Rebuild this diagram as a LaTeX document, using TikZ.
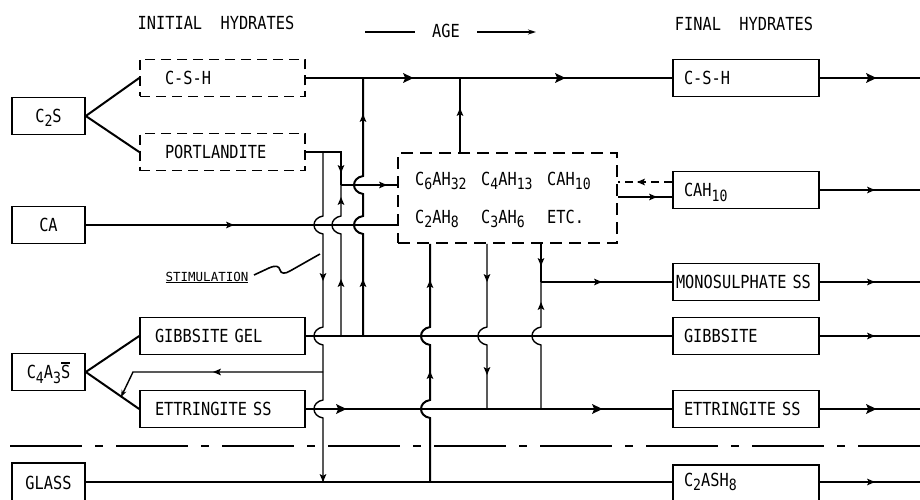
\documentclass[tikz,border=0pt]{standalone}
\usepackage{fontspec}
\setmainfont[FakeStretch=0.85]{DejaVu Sans Mono}
\newfontfamily\stimfont{DejaVu Sans Mono}
\usetikzlibrary{arrows.meta}
\newcommand\lo[1]{\raisebox{-4.5pt}{\fontsize{15.5}{15.5}\selectfont #1}}
\newcommand\sbar{\makebox[0pt][l]{\raisebox{15pt}{\rule{9pt}{1.3pt}}}S}
\newcommand\hopd[2]{-- (#1,#2-9) .. controls (#1-12,#2-7) and (#1-12,#2+7) .. (#1,#2+9)}
\newcommand\hopu[2]{-- (#1,#2+9) .. controls (#1-12,#2+7) and (#1-12,#2-7) .. (#1,#2-9)}
\begin{document}
\begin{tikzpicture}[x=1pt,y=-1pt,
 base/.style={font=\fontsize{18}{21}\selectfont},
 box/.style={base, draw, line width=1.6pt, rectangle, inner ysep=0pt, minimum height=37pt, text height=13pt, text depth=0pt},
 dbox/.style={box, dash pattern=on 10pt off 6pt},
 lbox/.style 2 args={inner xsep=#1, text width=#2, align=left},
 cbox/.style={box, minimum width=73pt, inner xsep=0pt},
 txt/.style={base, inner sep=0pt},
 thn/.style={line width=1.4pt},
 med/.style={line width=2pt},
 thk/.style={line width=2.8pt},
 ah/.pic={\fill (4,0) -- (-4,3.4) -- (-2.2,0) -- (-4,-3.4) -- cycle;},
 ahb/.pic={\fill (5.5,0) -- (-5,5) -- (-2.8,0) -- (-5,-5) -- cycle;}
]
\useasboundingbox (0,0) rectangle (920,500);
\clip (0,0) rectangle (920,500);

% headers
\node[txt] (hini) at (216,23) {INITIAL\ \ HYDRATES};
\node[txt] (hage) at (446,31) {AGE};
\node[txt] (hfin) at (744,24) {FINAL\ \ HYDRATES};
\coordinate (agea) at (365,32); \coordinate (ageb) at (415,32);
\coordinate (agec) at (477,32); \coordinate (aged) at (536,32);
\draw[thn] (agea) -- (ageb);
\draw[thn,-{Stealth[length=8pt,width=5pt]}] (agec) -- (aged);

% left boxes
\node[cbox] (c2s) at (48.5,116) {C\lo{2}S};
\node[cbox] (ca) at (48.5,225) {CA};
\node[cbox] (c4a) at (48.5,372) {C\lo{4}A\lo{3}\sbar};
\node[cbox, minimum height=56pt, text depth=17pt] (glass) at (48.5,491) {GLASS};

\node[dbox, lbox={25pt}{115pt}] (csh) at (222.5,78) {C-S-H};
\node[dbox, lbox={25pt}{115pt}] (port) at (222.5,152) {PORTLANDITE};
\node[box, lbox={15pt}{135pt}] (gg) at (222.5,336) {GIBBSITE GEL};
\node[box, lbox={15pt}{135pt}] (et) at (222.5,409) {ETTRINGITE SS};

% right boxes
\node[box, lbox={11pt}{124pt}] (rcsh) at (746,78) {C-S-H};
\node[box, lbox={11pt}{124pt}] (rcah) at (746,190) {CAH\lo{10}};
\node[box, lbox={3pt}{140pt}] (rmono) at (746,282) {MONOSULPHATE SS};
\node[box, lbox={11pt}{124pt}] (rgib) at (746,336) {GIBBSITE};
\node[box, lbox={11pt}{124pt}] (ret) at (746,409) {ETTRINGITE SS};
\node[box, lbox={11pt}{124pt}, minimum height=58pt, text depth=29pt] (rc2a) at (746,494) {C\lo{2}ASH\lo{8}};

% central box
\node[dbox, minimum width=219pt, minimum height=90pt, dash pattern=on 12pt off 7pt] (cen) at (507.5,198) {};
\node[txt, anchor=base west] (k1) at (415,185) {C\lo{6}AH\lo{32}};
\node[txt, anchor=base west] (k2) at (481,185) {C\lo{4}AH\lo{13}};
\node[txt, anchor=base west] (k3) at (547,185) {CAH\lo{10}};
\node[txt, anchor=base west] (k4) at (415,223) {C\lo{2}AH\lo{8}};
\node[txt, anchor=base west] (k5) at (481,223) {C\lo{3}AH\lo{6}};
\node[txt, anchor=base west] (k6) at (547,223) {ETC.};

% stimulation
\node[inner sep=0pt, anchor=base, font=\stimfont\fontsize{12.5}{15}\selectfont] (stim) at (207,281) {\underline{STIMULATION}};
\coordinate (z0) at (254,275);
\draw[line width=1.6pt] (z0) -- (269,268) .. controls (276,265) and (279,266) .. (280,270) .. controls (281,274) and (285,274) .. (290,271) -- (320,254);

% branching lines
\draw[med] (c2s.east) -- (csh.west);
\draw[med] (c2s.east) -- (port.west);
\draw[med] (c4a.east) -- (gg.west);
\draw[med] (c4a.east) -- (et.west);

% C-S-H row
\coordinate (o1) at (920,78);
\draw[thk] (csh.east) -- (rcsh.west);
\pic at (408,78) {ahb}; \pic at (560,78) {ahb};
\draw[thk] (rcsh.east) -- (o1); \pic at (871,78) {ahb};

% vertical x=363
\coordinate (v3b) at (363,336); \coordinate (v3t) at (363,78);
\draw[med] (v3b) \hopu{363}{225} \hopu{363}{185} -- (v3t);
\pic[rotate=90] at (363,118) {ah}; \pic[rotate=90] at (363,283) {ah};

% vertical x=460
\coordinate (v4t) at (460,78);
\draw[med] (cen.north -| v4t) -- (v4t); \pic[rotate=90] at (460,112) {ah};

% portlandite
\coordinate (p1) at (323,152); \coordinate (p2) at (341,152); \coordinate (p3) at (341,185);
\draw[thn] (port.east) -- (p2) -- (p3);
\pic[rotate=-90] at (341,169) {ah};
\draw[thn] (p3) -- (p3 -| cen.west); \pic at (383,185) {ah};

% x=341 from gibbsite gel
\coordinate (g2) at (341,336);
\draw[thn] (g2) \hopu{341}{225} -- (p3);
\pic[rotate=90] at (341,201) {ah}; \pic[rotate=90] at (341,283) {ah};

% x=323 stimulation line
\coordinate (s1) at (323,372); \coordinate (p4) at (323,482);
\draw[thn] (p1) \hopd{323}{225} \hopd{323}{336} \hopd{323}{409} -- (p4);
\pic[rotate=-90] at (323,277) {ah}; \pic[rotate=-90] at (323,478) {ah};
\coordinate (s2) at (133,372); \coordinate (s3) at (121,397);
\draw[thn,-{Stealth[length=7pt,width=5pt]}] (s1) -- (s2) -- (s3);
\pic[rotate=180] at (217,372) {ah};

% CA
\draw[thn] (ca.east) -- (ca.east -| cen.west); \pic at (230,225) {ah};

% CAH10
\coordinate (d1) at ([yshift=8pt]rcah.west);
\coordinate (d2) at ([yshift=-7pt]rcah.west);
\coordinate (o2) at (920,190);
\draw[thn, dash pattern=on 8pt off 5pt] (d1) -- (d1 -| cen.east); \pic[rotate=180] at (641,182) {ah};
\draw[thn] (d2 -| cen.east) -- (d2); \pic at (653,197) {ah};
\draw[thn] (rcah.east) -- (o2); \pic at (871,190) {ah};

% monosulphate
\coordinate (m1) at (541,282); \coordinate (o3) at (920,282);
\draw[thn] (m1) -- (rmono.west); \pic at (598,282) {ah};
\draw[thn] (rmono.east) -- (o3); \pic at (871,282) {ah};

% gibbsite
\coordinate (o4) at (920,336);
\draw[thn] (gg.east) -- (rgib.west);
\draw[thn] (rgib.east) -- (o4); \pic at (871,336) {ah};

% ettringite
\coordinate (o5) at (920,409);
\draw[thk] (et.east) -- (ret.west); \pic at (341,409) {ahb}; \pic at (597,409) {ahb};
\draw[thk] (ret.east) -- (o5); \pic at (871,409) {ahb};

% central bottom verticals
\coordinate (b1) at (430,482);
\draw[med] (b1) \hopu{430}{409} \hopu{430}{336} -- (b1 |- cen.south);
\pic[rotate=90] at (430,375) {ah}; \pic[rotate=90] at (430,284) {ah};
\coordinate (b2) at (487,409);
\draw[thn] (b2 |- cen.south) \hopd{487}{336} -- (b2);
\pic[rotate=-90] at (487,278) {ah}; \pic[rotate=-90] at (487,371) {ah};
\coordinate (b3) at (541,409);
\draw[thn] (m1 |- cen.south) -- (m1); \pic[rotate=-90] at (541,262) {ah};
\draw[thn] (b3) \hopu{541}{336} -- (m1); \pic[rotate=90] at (541,306) {ah};

% glass
\coordinate (o6) at (920,482);
\draw[thn] (glass.east |- p4) -- (rc2a.west |- p4);
\draw[thn] (rc2a.east |- p4) -- (o6); \pic at (871,482) {ah};

% separator
\coordinate (sepl) at (10,446); \coordinate (sepr) at (920,446);
\draw[med, dash pattern=on 72pt off 13pt on 8pt off 13pt] (sepl) -- (sepr);
\end{tikzpicture}
\end{document}
